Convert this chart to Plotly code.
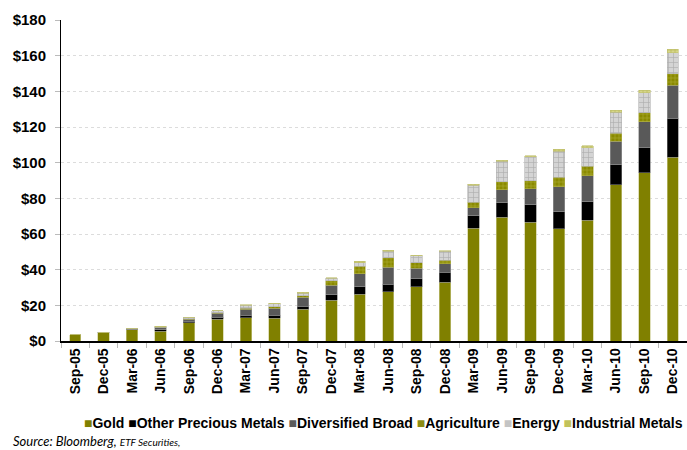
import plotly.graph_objects as go

categories = ["Sep-05", "Dec-05", "Mar-06", "Jun-06", "Sep-06", "Dec-06", "Mar-07", "Jun-07",
              "Sep-07", "Dec-07", "Mar-08", "Jun-08", "Sep-08", "Dec-08", "Mar-09", "Jun-09",
              "Sep-09", "Dec-09", "Mar-10", "Jun-10", "Sep-10", "Dec-10"]

gold = [3.5, 4.7, 6.5, 5.6, 10.1, 12.2, 13.1, 12.9, 17.8, 22.8, 26.2, 27.7, 30.3, 32.9,
        63.2, 69.4, 66.6, 62.9, 67.7, 87.5, 94.3, 102.9]
other_precious = [0.0, 0.0, 0.1, 0.8, 1.0, 1.1, 1.3, 1.5, 1.8, 3.0, 4.1, 4.1, 4.5, 5.7,
                  7.0, 8.1, 9.7, 9.5, 10.3, 11.3, 14.0, 22.1]
diversified = [0.0, 0.1, 0.2, 1.3, 1.2, 2.4, 3.4, 4.1, 4.8, 5.5, 7.5, 9.6, 6.0, 4.6,
               4.4, 7.3, 9.2, 14.0, 14.8, 13.3, 14.6, 18.5]
agriculture = [0.0, 0.0, 0.0, 0.1, 0.2, 0.2, 0.6, 0.8, 1.1, 2.4, 4.1, 5.4, 3.0, 2.1,
               3.1, 4.4, 4.5, 5.5, 5.2, 4.3, 5.1, 6.5]
energy = [0.1, 0.1, 0.2, 0.3, 0.6, 1.1, 1.6, 1.7, 1.4, 1.5, 2.1, 3.5, 3.9, 4.9,
          9.5, 11.5, 13.3, 14.4, 10.5, 11.9, 11.2, 11.6]
industrial = [0.0, 0.0, 0.0, 0.05, 0.05, 0.1, 0.2, 0.3, 0.4, 0.4, 0.6, 0.6, 0.4, 0.5,
              0.7, 0.7, 0.7, 1.1, 0.9, 1.0, 1.5, 1.9]

series_names = ["Gold", "Other Precious Metals", "Diversified Broad", "Agriculture",
                "Energy", "Industrial Metals"]
series_values = [gold, other_precious, diversified, agriculture, energy, industrial]
legend_colors = ["#808000", "#000000", "#5a5a5a", "#8c8c14", "#c4c4c4", "#c2c25a"]

styles = [
    dict(color="#808000", line=dict(color="#c9c98c", width=0.6)),
    dict(color="#000000", line=dict(color="#777777", width=0.6)),
    dict(color="#595959", line=dict(color="#9a9a9a", width=0.6)),
    dict(color="#8a8a00", line=dict(color="#b0b050", width=0.6),
         pattern=dict(shape="+", bgcolor="#8a8a00", fgcolor="#c8c860", size=4, solidity=0.3)),
    dict(color="#d4d4d4", line=dict(color="#b0b0b0", width=0.6),
         pattern=dict(shape="+", bgcolor="#d4d4d4", fgcolor="#8c8c8c", size=5, solidity=0.25)),
    dict(color="#d6d68a", line=dict(color="#c0c070", width=0.6),
         pattern=dict(shape="+", bgcolor="#d6d68a", fgcolor="#9a9a20", size=4, solidity=0.3)),
]

fig = go.Figure()
for name, vals, st in zip(series_names, series_values, styles):
    fig.add_trace(go.Bar(x=categories, y=vals, name=name, marker=st, showlegend=False))

W, H = 687, 450
ML, MR, MT, MB = 61, 0, 20, 109
PW, PH = W - ML - MR, H - MT - MB

def px_x(p):
    return (p - ML) / PW

def px_y(p):
    return (H - MB - p) / PH

legend_text = " ".join(
    f"<span style='color:{c}'>■</span>{n}" for n, c in zip(series_names, legend_colors)
)

bold = dict(family="Arial, Liberation Sans, sans-serif", color="black", weight="bold")

fig.update_layout(
    width=W, height=H,
    margin=dict(l=ML, r=MR, t=MT, b=MB),
    barmode="stack",
    bargap=0.6,
    plot_bgcolor="white",
    paper_bgcolor="white",
    font=dict(family="Arial, Liberation Sans, sans-serif", size=13, color="black"),
    xaxis=dict(
        type="category",
        tickangle=-90,
        tickfont=dict(size=14, **bold),
        showline=True, linecolor="black", linewidth=1.5,
        ticks="outside", tickson="boundaries", ticklen=5, tickcolor="#bbbbbb",
        showgrid=False,
    ),
    yaxis=dict(
        range=[0, 180], dtick=20, tickprefix="$",
        tickfont=dict(size=15, **bold),
        ticklabelstandoff=6,
        showline=True, linecolor="black", linewidth=1,
        ticks="outside", ticklen=5, tickcolor="#bbbbbb",
        showgrid=True, gridcolor="#dcdcdc", griddash="dot", gridwidth=1,
        zeroline=False,
    ),
    annotations=[
        dict(text=legend_text, xref="paper", yref="paper", x=px_x(383), y=px_y(423),
             xanchor="center", yanchor="middle", showarrow=False,
             font=dict(size=14, **bold)),
        dict(text="<i>Source: Bloomberg, </i><i><span style='font-size:10px'>ETF Securities,</span></i>",
             xref="paper", yref="paper", x=px_x(11), y=px_y(441),
             xanchor="left", yanchor="middle", showarrow=False,
             font=dict(family="Lato, Open Sans, sans-serif", size=13, color="black")),
    ],
)

fig.write_html("out.html",
               config={"displayModeBar": False},
               post_script="document.body.style.margin='0';document.body.style.padding='0';")
